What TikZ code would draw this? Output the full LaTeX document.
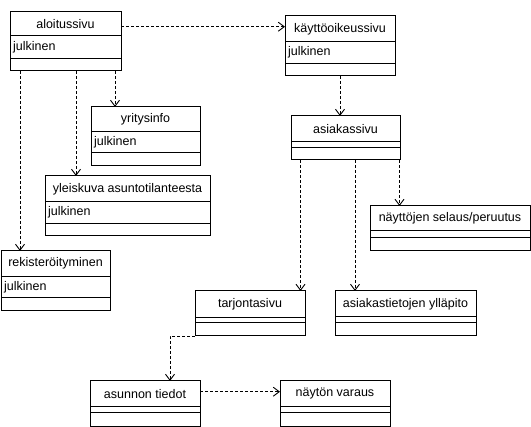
\documentclass[tikz,border=0pt]{standalone}
\usepackage{fontspec}
\setmainfont{Liberation Sans}
\usetikzlibrary{arrows.meta}
\tikzset{
  clsbox/.style={draw, line width=1pt, inner sep=0pt, outer sep=0pt, anchor=north west},
  ttl/.style={inner sep=0pt, font=\fontsize{12.5}{14}\selectfont},
  attrtxt/.style={inner sep=1pt, anchor=west, font=\fontsize{12.5}{14}\selectfont},
  sep/.style={line width=1pt},
  dep/.style={line width=0.9pt, dash pattern=on 3pt off 2pt, -{Straight Barb[length=6pt,width=9pt]}},
}
\newcommand\umlcls[9]{%
  \node[clsbox, minimum width={(#4-#2)*1pt}, minimum height={(#5-#3)*1pt}] (#1) at (#2,#3) {};
  \node[ttl] (#1-t) at ({(#2+#4)/2},{(#3+#6)/2}) {#8};
  \node[attrtxt] (#1-a) at ({#2+2},{(#6+#7)/2}) {#9};
  \draw[sep] (#2,#6) -- (#4,#6) (#2,#7) -- (#4,#7);
}
\begin{document}
\begin{tikzpicture}[x=1pt,y=-1pt]
\useasboundingbox (0,0) rectangle (531,427);
\umlcls{alo}{10}{12}{121}{71}{36}{59}{aloitussivu}{julkinen}
\umlcls{kay}{285}{16}{395}{76}{41.7}{63.3}{käyttöoikeussivu}{julkinen}
\umlcls{yri}{91}{107}{200}{166}{131.5}{153}{yritysinfo}{julkinen}
\umlcls{yle}{45}{176}{210}{236}{201.7}{223.3}{yleiskuva asuntotilanteesta}{julkinen}
\umlcls{rek}{1}{251}{110}{311}{276.3}{298}{rekisteröityminen}{julkinen}
\umlcls{asi}{291}{116}{400}{160}{141.7}{147.7}{asiakassivu}{}
\umlcls{nay}{370}{206}{530}{251}{231}{237.3}{näyttöjen selaus/peruutus}{}
\umlcls{tar}{195}{291}{305}{336}{317.3}{322.7}{tarjontasivu}{}
\umlcls{ast}{335}{291}{476}{336}{316.7}{322.3}{asiakastietojen ylläpito}{}
\umlcls{asu}{90}{381}{200}{426.5}{406.7}{412.3}{asunnon tiedot}{}
\umlcls{var}{280}{381}{390}{426.5}{406.7}{412.3}{näytön varaus}{}
\coordinate (y27) at (0,26.7);
\coordinate (y392) at (0,391.7);
\coordinate (x115) at (115,0);
\coordinate (x76) at (76,0);
\coordinate (x20) at (20,0);
\coordinate (x340) at (340,0);
\coordinate (x300) at (300.5,0);
\coordinate (x355) at (355,0);
\coordinate (x400) at (399.5,0);
\coordinate (x170) at (170,0);
\draw[dep] (alo.east |- y27) -- (kay.west |- y27);
\draw[dep] (alo.south -| x115) -- (yri.north -| x115);
\draw[dep] (alo.south -| x76) -- (yle.north -| x76);
\draw[dep] (alo.south -| x20) -- (rek.north -| x20);
\draw[dep] (kay.south -| x340) -- (asi.north -| x340);
\draw[dep] (asi.south -| x300) -- (tar.north -| x300);
\draw[dep] (asi.south -| x355) -- (ast.north -| x355);
\draw[dep] (asi.south -| x400) -- (nay.north -| x400);
\draw[dep] (tar.south west) -- (tar.south west -| x170) -- (asu.north -| x170);
\draw[dep] (asu.east |- y392) -- (var.west |- y392);
\end{tikzpicture}
\end{document}
